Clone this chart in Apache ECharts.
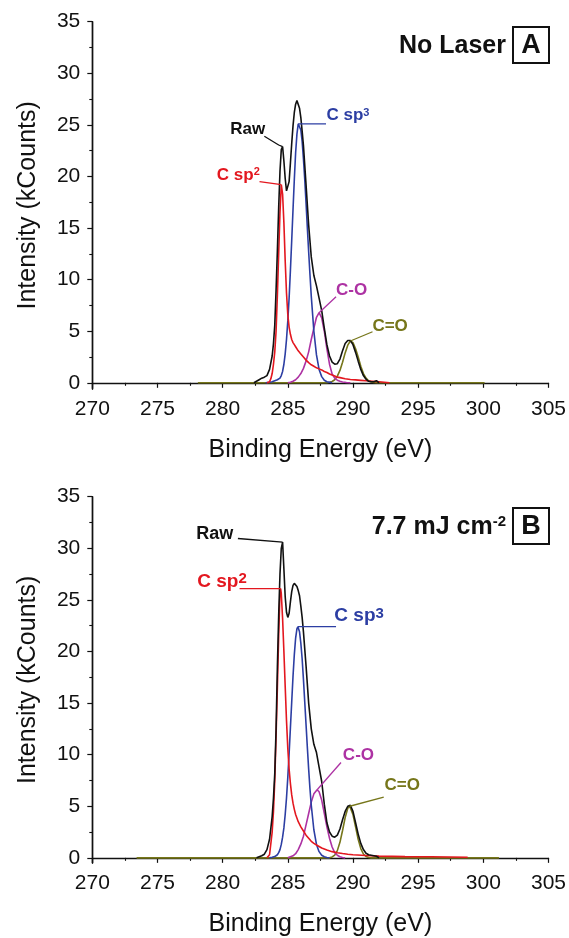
<!DOCTYPE html>
<html>
<head>
<meta charset="utf-8">
<script src="https://cdn.jsdelivr.net/npm/echarts@6/dist/echarts.min.js"></script>
<style>
  html, body { margin: 0; padding: 0; background: #ffffff; }
  #chart { width: 569px; height: 938px; }
</style>
</head>
<body>
<div id="chart"></div>
<script>
// C 1s XPS spectra: [binding energy (eV), intensity (kCounts)]

// Panel A — no laser
const rawA = [
  [282.4,0],[282.6,0.15],[282.8,0.3],[283.0,0.45],[283.2,0.55],[283.4,0.7],[283.6,1.3],[283.8,2.6],
  [283.9,3.8],[284.0,5.6],[284.1,9.0],[284.2,12.8],[284.3,17.0],[284.4,20.5],[284.5,22.6],[284.6,22.9],
  [284.7,21.5],[284.8,19.8],[284.9,18.6],[285.0,18.5],[285.1,19.5],[285.2,21.3],[285.3,23.2],[285.4,24.9],
  [285.5,26.2],[285.6,27.0],[285.7,27.35],[285.8,27.2],[285.9,26.6],[286.0,25.7],[286.1,24.4],[286.2,23.0],
  [286.4,19.2],[286.6,15.3],[286.8,12.2],[287.0,10.4],[287.2,9.4],[287.4,8.2],[287.6,7.0],[287.8,5.3],
  [288.0,3.7],[288.2,2.6],[288.4,2.0],[288.6,1.8],[288.8,1.85],[289.0,2.3],[289.2,3.1],[289.4,3.8],
  [289.6,4.1],[289.8,4.1],[290.0,3.7],[290.2,2.95],[290.4,2.1],[290.6,1.3],[290.8,0.7],[291.0,0.35],
  [291.2,0.15],[291.4,0.1],[291.6,0.1],[291.8,0.2],[292.0,0]
];
const sp2A = [
  [283.4,0],[283.6,0.1],[283.7,0.4],[283.8,0.9],[283.9,1.8],[284.0,3.0],[284.1,5.0],[284.2,8.5],
  [284.3,12.5],[284.4,16.5],[284.5,19.2],[284.6,18.3],[284.7,15.5],[284.8,11.8],[284.9,8.7],[285.0,6.6],
  [285.1,5.4],[285.2,4.7],[285.3,4.2],[285.4,3.9],[285.5,3.7],[285.6,3.5],[285.8,3.1],[286.0,2.8],
  [286.2,2.5],[286.4,2.2],[286.6,1.95],[286.8,1.75],[287.0,1.6],[287.2,1.45],[287.4,1.35],[287.6,1.25],
  [287.8,1.1],[288.0,1.0],[288.2,0.85],[288.4,0.75],[288.6,0.65],[288.8,0.55],[289.0,0.5],[289.4,0.4],
  [289.8,0.32],[290.2,0.28],[290.6,0.24],[291.0,0.2],[291.5,0.15],[292.0,0.1],[292.8,0]
];
const sp3A = [
  [283.3,0],[283.6,0.05],[283.8,0.1],[284.0,0.2],[284.2,0.3],[284.4,0.45],[284.5,0.7],[284.6,1.1],
  [284.7,1.8],[284.8,2.8],[284.9,4.2],[285.0,6.0],[285.1,8.2],[285.2,10.9],[285.3,13.8],[285.4,16.8],
  [285.5,19.7],[285.6,22.3],[285.7,24.1],[285.8,25.1],[285.9,25.1],[286.0,24.5],[286.1,23.4],[286.2,21.7],
  [286.3,19.7],[286.4,17.4],[286.5,15.0],[286.6,12.7],[286.7,10.5],[286.8,8.4],[287.0,5.0],[287.2,2.7],
  [287.4,1.3],[287.6,0.6],[287.8,0.25],[288.0,0.1],[288.4,0]
];
const coA = [
  [285.0,0],[285.2,0.05],[285.4,0.15],[285.6,0.3],[285.8,0.55],[286.0,0.9],[286.2,1.4],[286.4,2.1],
  [286.6,3.0],[286.8,4.2],[287.0,5.3],[287.2,6.35],[287.4,6.8],[287.6,6.3],[287.8,5.0],[288.0,3.3],
  [288.2,1.8],[288.4,0.85],[288.6,0.45],[288.8,0.25],[289.0,0.15],[289.2,0.08],[289.5,0.03],[289.8,0]
];
const cdoA = [
  [278.1,0],[287.6,0],[288.0,0.02],[288.2,0.05],[288.4,0.13],[288.6,0.3],[288.8,0.65],[289.0,1.2],
  [289.2,2.0],[289.4,2.9],[289.6,3.65],[289.8,4.05],[290.0,3.9],[290.2,3.3],[290.4,2.5],[290.6,1.6],
  [290.8,0.9],[291.0,0.45],[291.2,0.2],[291.4,0.08],[291.6,0.03],[291.8,0],[300.1,0]
];

// Panel B — 7.7 mJ cm-2
const rawB = [
  [282.6,0],[282.8,0.1],[283.0,0.2],[283.2,0.35],[283.4,0.8],[283.6,1.8],[283.8,4.0],[283.9,5.8],
  [284.0,8.2],[284.1,12.5],[284.2,18.5],[284.3,23.5],[284.4,27.5],[284.5,30.0],[284.6,30.6],[284.7,28.0],
  [284.8,25.3],[284.9,23.8],[285.0,23.3],[285.1,23.7],[285.2,24.8],[285.3,25.8],[285.4,26.4],[285.5,26.6],
  [285.6,26.6],[285.7,26.3],[285.8,25.9],[285.9,25.4],[286.0,24.4],[286.1,23.3],[286.2,21.9],[286.4,18.6],
  [286.6,15.0],[286.8,12.5],[287.0,11.0],[287.2,10.2],[287.4,8.8],[287.6,7.4],[287.8,5.2],[288.0,3.4],
  [288.2,2.5],[288.4,2.1],[288.6,2.0],[288.8,2.2],[289.0,2.8],[289.2,3.7],[289.4,4.5],[289.6,5.0],
  [289.8,5.1],[290.0,4.5],[290.2,3.4],[290.4,2.3],[290.6,1.4],[290.8,0.8],[291.0,0.45],[291.2,0.3],
  [291.4,0.25],[291.6,0.2],[291.8,0.15],[292.0,0]
];
const sp2B = [
  [283.4,0],[283.6,0.3],[283.8,2.5],[283.9,4.5],[284.0,7.5],[284.1,11.8],[284.2,16.5],[284.3,21.5],
  [284.4,25.8],[284.45,26.1],[284.5,25.6],[284.6,23.2],[284.7,20.0],[284.8,16.6],[284.9,13.3],[285.0,10.6],
  [285.1,8.6],[285.2,7.2],[285.3,6.1],[285.4,5.3],[285.5,4.7],[285.6,4.2],[285.8,3.5],[286.0,3.0],
  [286.2,2.6],[286.4,2.2],[286.6,1.9],[286.8,1.6],[287.0,1.4],[287.2,1.25],[287.4,1.1],[287.6,0.95],
  [287.8,0.85],[288.0,0.75],[288.4,0.6],[288.8,0.5],[289.2,0.42],[289.6,0.35],[290.0,0.3],[291.0,0.22],
  [292.0,0.17],[294.0,0.12],[296.0,0.1],[298.8,0.05]
];
const sp3B = [
  [283.6,0],[283.8,0.05],[284.0,0.12],[284.2,0.3],[284.3,0.5],[284.4,0.8],[284.5,1.3],[284.6,2.0],
  [284.7,2.9],[284.8,4.2],[284.9,5.8],[285.0,7.8],[285.1,10.1],[285.2,12.6],[285.3,15.1],[285.4,17.6],
  [285.5,19.7],[285.6,21.3],[285.7,22.2],[285.77,22.4],[285.9,21.9],[286.0,20.8],[286.1,19.3],[286.2,17.3],
  [286.3,15.1],[286.4,12.9],[286.5,10.7],[286.6,8.6],[286.7,6.7],[286.8,5.1],[287.0,2.7],[287.2,1.3],
  [287.4,0.6],[287.6,0.25],[287.8,0.1],[288.0,0.04],[288.2,0]
];
const coB = [
  [285.0,0],[285.2,0.1],[285.4,0.2],[285.6,0.4],[285.8,0.8],[286.0,1.35],[286.2,2.1],[286.4,3.2],
  [286.6,4.3],[286.8,5.4],[287.0,6.2],[287.25,6.6],[287.4,6.4],[287.6,5.6],[287.8,4.3],[288.0,3.0],
  [288.2,1.9],[288.4,1.05],[288.6,0.5],[288.8,0.25],[289.0,0.1],[289.2,0.04],[289.4,0]
];
const cdoB = [
  [273.4,0],[288.2,0],[288.4,0.09],[288.6,0.27],[288.8,0.7],[289.0,1.5],[289.2,2.65],[289.4,3.9],
  [289.6,4.8],[289.75,5.0],[289.8,4.95],[290.0,4.2],[290.2,3.0],[290.4,1.8],[290.6,0.9],[290.8,0.37],
  [291.0,0.13],[291.2,0.04],[291.4,0],[301.2,0]
];

// Axis ticks
const energyTicks = [270, 275, 280, 285, 290, 295, 300, 305];
const countTicks = [0, 5, 10, 15, 20, 25, 30, 35];
const countMinorTicks = [2.5, 7.5, 12.5, 17.5, 22.5, 27.5, 32.5];

const FONT = '"Liberation Sans", Arial, Helvetica, sans-serif';
const INK = '#111111';
const COL = { raw: '#111111', sp2: '#e3171f', sp3: '#2c3ea3', co: '#ad32a3', cdo: '#76761a' };

// highest point of a curve inside an energy window
function peakOf(arr, lo = -Infinity, hi = Infinity) {
  let best = null;
  for (const p of arr) {
    if (p[0] >= lo && p[0] <= hi && (!best || p[1] > best[1])) best = p;
  }
  return best;
}

const grids = [
  { left: 92.3, top: 21.7, width: 457.4, height: 367.3 },
  { left: 92.3, top: 496.7, width: 457.4, height: 367.6 }
];
const yMins = [-0.6, -0.5];

const xAxes = grids.map((g, i) => ({
  type: 'value', gridIndex: i, min: energyTicks[0], max: energyTicks[energyTicks.length - 1], interval: 5,
  axisLine: { show: true, lineStyle: { color: INK, width: 1.4 } },
  axisTick: { show: true, length: 5, lineStyle: { color: INK, width: 1.2 } },
  minorTick: { show: true, splitNumber: 2, length: 3, lineStyle: { color: INK, width: 1.1 } },
  axisLabel: { fontSize: 21, color: INK, fontFamily: FONT, margin: 10 },
  splitLine: { show: false }, minorSplitLine: { show: false },
  name: 'Binding Energy (eV)', nameLocation: 'middle', nameGap: 49,
  nameTextStyle: { fontSize: 25, color: INK, fontFamily: FONT }
}));

const yAxes = [];
grids.forEach((g, i) => {
  yAxes.push({
    type: 'value', gridIndex: i, position: 'left', min: yMins[i], max: 35,
    axisLine: { show: true, lineStyle: { color: INK, width: 1.4 } },
    axisTick: { show: true, length: 5, customValues: countTicks, lineStyle: { color: INK, width: 1.2 } },
    axisLabel: { fontSize: 21, color: INK, fontFamily: FONT, margin: 12, customValues: countTicks },
    splitLine: { show: false },
    name: 'Intensity (kCounts)', nameLocation: 'middle', nameGap: 52, nameRotate: 90,
    nameTextStyle: { fontSize: 25, color: INK, fontFamily: FONT }
  });
  yAxes.push({
    type: 'value', gridIndex: i, position: 'left', offset: 0, min: yMins[i], max: 35,
    axisLine: { show: true, lineStyle: { color: INK, width: 1.4 } },
    axisTick: { show: true, length: 3, customValues: countMinorTicks, lineStyle: { color: INK, width: 1.1 } },
    axisLabel: { show: false },
    splitLine: { show: false }
  });
});

function curve(name, data, color, panel, z) {
  return {
    name, type: 'line', data, xAxisIndex: panel, yAxisIndex: panel * 2,
    showSymbol: false, symbol: 'none', silent: true, z,
    lineStyle: { color, width: 1.6 }
  };
}

function leader(points, color, panel) {
  return {
    type: 'line', data: points, xAxisIndex: panel, yAxisIndex: panel * 2,
    showSymbol: false, symbol: 'none', silent: true, z: 8,
    lineStyle: { color, width: 1.3 }
  };
}

function tags(items, panel) {
  return {
    type: 'scatter', xAxisIndex: panel, yAxisIndex: panel * 2, symbolSize: 0, silent: true, z: 9,
    itemStyle: { opacity: 1 },
    data: items.map(t => ({
      value: t.at,
      label: {
        show: true, position: [0, 0], formatter: t.text,
        align: t.align, verticalAlign: 'middle', opacity: 1,
        rich: {
          m: { fontSize: t.size, fontWeight: 'bold', color: t.color, fontFamily: FONT },
          s: { fontSize: t.sup, fontWeight: 'bold', color: t.color, fontFamily: FONT, verticalAlign: 'top' }
        }
      }
    }))
  };
}

const pkRawA = peakOf(rawA, 284, 285), pkSp2A = peakOf(sp2A), pkSp3A = peakOf(sp3A);
const pkCoA = peakOf(coA), pkCdoA = peakOf(cdoA);
const pkRawB = peakOf(rawB, 284, 285), pkSp2B = peakOf(sp2B), pkSp3B = peakOf(sp3B);
const pkCoB = peakOf(coB), pkCdoB = peakOf(cdoB);

const series = [
  curve('C=O', cdoA, COL.cdo, 0, 2),
  curve('C-O', coA, COL.co, 0, 3),
  curve('C sp3', sp3A, COL.sp3, 0, 4),
  curve('C sp2', sp2A, COL.sp2, 0, 5),
  curve('Raw', rawA, COL.raw, 0, 6),
  leader([[283.2, 23.9], [284.3, 23.05], pkRawA], COL.raw, 0),
  leader([[282.83, 19.5], pkSp2A], COL.sp2, 0),
  leader([[287.93, pkSp3A[1]], pkSp3A], COL.sp3, 0),
  leader([[288.7, 8.34], pkCoA], COL.co, 0),
  leader([[291.5, 4.95], pkCdoA], COL.cdo, 0),
  tags([
    { text: '{m|Raw}', at: [281.93, 24.6], align: 'center', color: COL.raw, size: 17, sup: 11 },
    { text: '{m|C sp}{s|2}', at: [282.85, 20.1], align: 'right', color: COL.sp2, size: 17, sup: 11 },
    { text: '{m|C sp}{s|3}', at: [287.97, 25.9], align: 'left', color: COL.sp3, size: 17, sup: 11 },
    { text: '{m|C-O}', at: [289.9, 8.95], align: 'center', color: COL.co, size: 17, sup: 11 },
    { text: '{m|C=O}', at: [292.85, 5.5], align: 'center', color: COL.cdo, size: 17, sup: 11 }
  ], 0),

  curve('C=O', cdoB, COL.cdo, 1, 2),
  curve('C-O', coB, COL.co, 1, 3),
  curve('C sp3', sp3B, COL.sp3, 1, 4),
  curve('C sp2', sp2B, COL.sp2, 1, 5),
  curve('Raw', rawB, COL.raw, 1, 6),
  leader([[281.17, 30.95], pkRawB], COL.raw, 1),
  leader([[281.3, pkSp2B[1]], pkSp2B], COL.sp2, 1),
  leader([[288.7, pkSp3B[1]], pkSp3B], COL.sp3, 1),
  leader([[289.08, 9.24], pkCoB], COL.co, 1),
  leader([[292.36, 5.89], pkCdoB], COL.cdo, 1),
  tags([
    { text: '{m|Raw}', at: [279.39, 31.37], align: 'center', color: COL.raw, size: 18, sup: 14 },
    { text: '{m|C sp}{s|2}', at: [281.85, 26.8], align: 'right', color: COL.sp2, size: 19, sup: 15 },
    { text: '{m|C sp}{s|3}', at: [288.57, 23.5], align: 'left', color: COL.sp3, size: 19, sup: 15 },
    { text: '{m|C-O}', at: [290.42, 9.94], align: 'center', color: COL.co, size: 17, sup: 11 },
    { text: '{m|C=O}', at: [293.78, 7.05], align: 'center', color: COL.cdo, size: 17, sup: 11 }
  ], 1)
];

// panel headings with boxed letters
function heading(text, rich, letter, boxTop) {
  return [
    {
      type: 'text', z: 10,
      style: {
        text, rich, x: 506, y: boxTop + 19, align: 'right', verticalAlign: 'middle',
        font: 'bold 25px ' + FONT, fill: INK
      }
    },
    {
      type: 'rect', z: 10,
      shape: { x: 513, y: boxTop, width: 36, height: 36 },
      style: { fill: 'none', stroke: INK, lineWidth: 2 }
    },
    {
      type: 'text', z: 10,
      style: {
        text: letter, x: 531, y: boxTop + 19, align: 'center', verticalAlign: 'middle',
        font: 'bold 27px ' + FONT, fill: INK
      }
    }
  ];
}

const graphic = [
  ...heading('No Laser', null, 'A', 27),
  ...heading('{m|7.7 mJ cm}{s|-2}', {
    m: { font: 'bold 25px ' + FONT, fill: INK },
    s: { font: 'bold 15px ' + FONT, fill: INK, verticalAlign: 'top' }
  }, 'B', 508)
];

const chart = echarts.init(document.getElementById('chart'), null, { renderer: 'canvas' });
chart.setOption({
  animation: false,
  backgroundColor: '#ffffff',
  grid: grids,
  xAxis: xAxes,
  yAxis: yAxes,
  series,
  graphic
});
</script>
</body>
</html>
